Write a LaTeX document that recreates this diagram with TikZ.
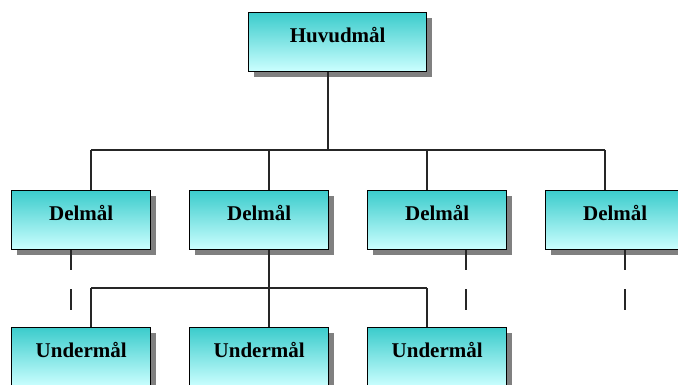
\documentclass[tikz,border=0pt]{standalone}
\usepackage{fontspec}
\setmainfont{Liberation Serif}
\usetikzlibrary{shadows,calc}
\definecolor{boxtop}{RGB}{60,204,204}
\definecolor{boxbot}{RGB}{204,255,255}
\definecolor{shade}{RGB}{128,128,128}
\tikzset{
  goal/.style={draw=black, line width=1.4pt, anchor=north west,
    minimum width=139pt, minimum height=59pt, inner sep=0pt,
    text height=0pt, text depth=0pt,
    top color=boxtop, bottom color=boxbot,
    drop shadow={shadow xshift=5pt, shadow yshift=-5pt, fill=shade, opacity=1},
    font=\fontsize{21}{24}\selectfont\bfseries},
  conn/.style={line width=1.2pt, draw=black!85},
}
\begin{document}
\begin{tikzpicture}[x=1pt,y=-1pt]
\useasboundingbox (0,0) rectangle (678,385);
\node[goal, minimum width=178pt] (top) at (248,12) {Huvudmål};
\node[goal] (d1) at (11,190) {Delmål};
\node[goal] (d2) at (189,190) {Delmål};
\node[goal] (d3) at (367,190) {Delmål};
\node[goal] (d4) at (545,190) {Delmål};
\node[goal] (u1) at (11,327) {Undermål};
\node[goal] (u2) at (189,327) {Undermål};
\node[goal] (u3) at (367,327) {Undermål};
% top tree
\coordinate (hb) at (328,150);
\draw[conn] ($(top.south west)+(80,0)$) -- (hb);
\draw[conn] (91,150) -- (605,150);
\draw[conn] (91,150) -- ($(d1.north west)+(80,0)$);
\draw[conn] (269,150) -- ($(d2.north west)+(80,0)$);
\draw[conn] (427,150) -- ($(d3.north west)+(60,0)$);
\draw[conn] (605,150) -- ($(d4.north west)+(60,0)$);
% second tree
\draw[conn] ($(d2.south west)+(80,0)$) -- (269,288);
\draw[conn] (91,288) -- (427,288);
\draw[conn] (91,288) -- ($(u1.north west)+(80,0)$);
\draw[conn] (269,288) -- ($(u2.north west)+(80,0)$);
\draw[conn] (427,288) -- ($(u3.north west)+(60,0)$);
% dashed stubs
\draw[conn] ($(d1.south west)+(60,0)$) -- ++(0,20);
\draw[conn] ($(d1.south west)+(60,39)$) -- ++(0,21);
\draw[conn] ($(d3.south west)+(99,0)$) -- ++(0,20);
\draw[conn] ($(d3.south west)+(99,39)$) -- ++(0,21);
\draw[conn] ($(d4.south west)+(80,0)$) -- ++(0,20);
\draw[conn] ($(d4.south west)+(80,39)$) -- ++(0,21);
\end{tikzpicture}
\end{document}
